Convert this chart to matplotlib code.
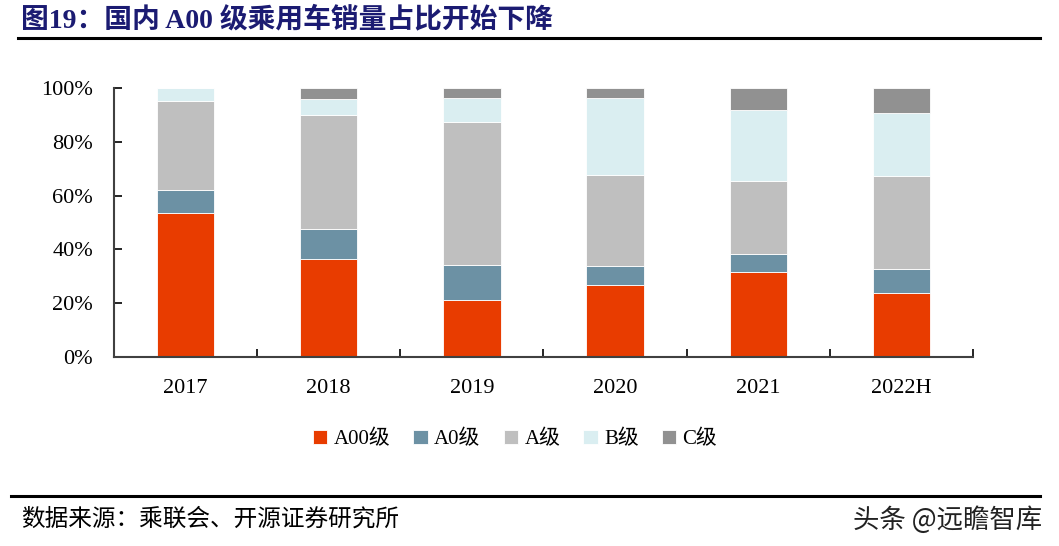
import numpy as np
import matplotlib
matplotlib.use('Agg')
import matplotlib.pyplot as plt
from matplotlib.ticker import PercentFormatter

# Data (share of sales, %)
years = ['2017', '2018', '2019', '2020', '2021', '2022H']
a00 = [53.4, 36.3, 21.3, 26.9, 31.5, 23.9]
a0 = [8.5, 11.3, 12.8, 6.8, 6.8, 8.8]
a_cls = [33.4, 42.2, 53.4, 34.0, 27.3, 34.6]
b_cls = [4.7, 6.0, 8.8, 28.6, 26.2, 23.3]
c_cls = [0.0, 4.2, 3.7, 3.7, 8.2, 9.4]
series_names = ['A00级', 'A0级', 'A级', 'B级', 'C级']
colors = ['#E83C00', '#6C91A4', '#BFBFBF', '#DAEEF1', '#919191']

serif_cjk = ['Liberation Serif', 'Noto Sans CJK SC']

fig = plt.figure(figsize=(10.59, 5.46), dpi=100)
ax = fig.add_axes([0.1076, 0.3462, 0.8112, 0.4926])

x = np.arange(len(years))
bottom = np.zeros(len(years))
for vals, name, col in zip([a00, a0, a_cls, b_cls, c_cls], series_names, colors):
    v = np.array(vals) / 100
    ax.bar(x, v, 0.4, bottom=bottom, color=col, label=name,
           edgecolor='white', linewidth=0.6)
    bottom += v

ax.set_xlim(-0.5, len(years) - 0.5)
ax.set_ylim(0, 1)
ax.yaxis.set_major_formatter(PercentFormatter(1.0, decimals=0))
ax.set_yticks(np.linspace(0, 1, 6))
ax.set_xticks(x)
ax.set_xticklabels(years)
ax.set_xticks(np.arange(len(years)) + 0.5, minor=True)
ax.tick_params(axis='x', which='major', length=0, pad=16)
ax.tick_params(axis='x', which='minor', direction='in', length=6, width=1.2)
ax.tick_params(axis='y', direction='in', length=6, width=1.2, pad=15)
for lab in ax.get_xticklabels() + ax.get_yticklabels():
    lab.set_family('Liberation Serif')
    lab.set_fontsize(16)
for s in ['top', 'right']:
    ax.spines[s].set_visible(False)
for s in ['left', 'bottom']:
    ax.spines[s].set_color('#404040')
    ax.spines[s].set_linewidth(1.5)

leg = ax.legend(loc='upper center', bbox_to_anchor=(0.467, -0.2), ncol=5,
                frameon=False, handlelength=0.7, handleheight=0.7,
                handletextpad=0.3, columnspacing=1.1,
                prop={'family': serif_cjk, 'size': 15})

# Title and rules
fig.text(0.02, 0.963, '图19：国内 A00 级乘用车销量占比开始下降', ha='left', va='center',
         fontsize=20, fontweight='bold', color='#1B1B72', family=serif_cjk)
fig.add_artist(plt.Line2D([0.017, 0.982], [0.93, 0.93], color='black', lw=2.2))
fig.add_artist(plt.Line2D([0.01, 0.982], [0.092, 0.092], color='black', lw=2.2))

fig.text(0.02, 0.05, '数据来源：乘联会、开源证券研究所', ha='left', va='center',
         fontsize=17, color='black', family='Noto Sans CJK SC')
fig.text(0.984, 0.047, '头条 @远瞻智库', ha='right', va='center',
         fontsize=19, color='#222222', family='Noto Sans CJK SC')

fig.savefig('out.png', dpi=100)
